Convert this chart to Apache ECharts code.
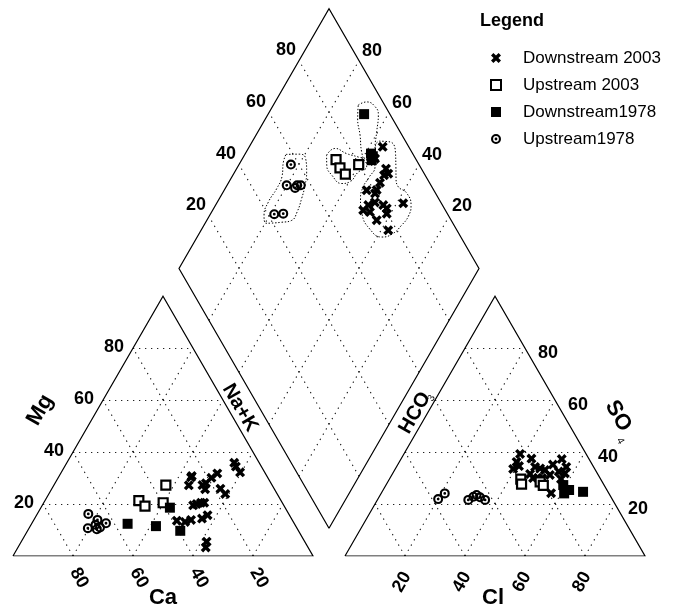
<!DOCTYPE html>
<html>
<head>
<meta charset="utf-8">
<script src="https://cdn.jsdelivr.net/npm/echarts@6/dist/echarts.min.js"></script>
<style>
  html, body { margin: 0; padding: 0; background: #fff; }
  #main { width: 680px; height: 607px; }
</style>
</head>
<body>
<div id="main"></div>
<script>
  // ---- data (percent) ----
  const groupNames = ["Downstream 2003", "Upstream 2003", "Downstream1978", "Upstream1978"];
  const ticks = [20, 40, 60, 80];

  // cation triangle: [Ca, Mg]  (Na+K = rest)
  const catDown2003 = [[8.3, 35.9], [8.5, 34.4], [8.2, 32.2], [25.0, 30.8], [27.8, 27.2], [18.8, 30.1],
    [16.0, 31.8], [23.2, 27.3], [23.1, 25.7], [21.7, 28.0], [17.9, 25.9], [17.3, 23.9], [30.2, 19.5],
    [28.8, 20.0], [27.1, 20.5], [26.0, 20.5], [38.6, 13.6], [36.1, 13.1], [33.7, 13.9], [29.8, 14.4],
    [27.3, 15.7], [32.7, 5.5], [34.1, 3.3], [25.5, 30.3]];
  const catUp2003 = [[35.4, 27.3], [47.4, 21.3], [46.4, 19.2], [39.7, 20.5]];
  const catDown1978 = [[55.6, 12.4], [46.6, 11.5], [38.4, 18.6], [39.4, 9.7]];
  const catUp1978 = [[66.8, 16.2], [64.9, 13.9], [69.7, 10.7], [66.9, 10.3], [65.5, 11.0], [62.7, 12.6], [66.5, 12.0]];

  // anion triangle: [Cl, SO4]  (HCO3 = rest)
  const anDown2003 = [[38.7, 39.3], [39.1, 36.2], [39.3, 33.5], [40.7, 34.6], [43.4, 37.5], [46.2, 34.3],
    [48.2, 33.7], [45.9, 31.6], [49.3, 30.0], [47.7, 30.0], [50.7, 30.0], [52.7, 31.2], [56.6, 24.2],
    [51.7, 35.2], [53.6, 37.3], [56.6, 34.3], [55.0, 32.5], [57.4, 31.8], [57.2, 29.6], [50.1, 33.1]];
  const anUp2003 = [[43.8, 29.6], [45.0, 27.7], [50.8, 28.5], [52.5, 27.2]];
  const anDown1978 = [[59.1, 27.3], [61.0, 24.1], [62.0, 25.4], [67.0, 24.7]];
  const anUp1978 = [[20.1, 21.9], [21.2, 24.1], [30.3, 21.6], [31.4, 22.8], [32.1, 23.5], [33.7, 22.6], [35.9, 21.6]];

  // diamond: [Ca+Mg, Cl+SO4]
  const diaDown2003 = [[55.5, 91.3], [55.8, 86.5], [50.2, 88.2], [48.5, 88.0], [49.6, 86.3], [49.5, 83.5],
    [52.5, 77.6], [49.1, 79.8], [49.1, 75.3], [49.8, 72.6], [47.2, 74.5], [47.4, 78.0], [44.1, 80.3],
    [42.3, 80.8], [37.8, 87.3], [43.4, 75.2], [37.6, 77.1], [41.3, 79.8], [49.2, 81.0]];
  const diaUp2003 = [[68.6, 73.3], [65.7, 73.0], [62.7, 73.6], [60.1, 79.9]];
  const diaDown1978 = [[68.0, 91.4], [58.1, 86.1], [56.6, 85.1], [57.0, 86.2]];
  const diaUp1978 = [[82.7, 57.3], [80.1, 51.9], [76.8, 54.2], [76.6, 55.4], [75.4, 56.6], [78.7, 42.2], [75.8, 45.3]];

  // group outlines in the diamond: [Ca+Mg, Cl+SO4]
  const encDown2003 = [[57.8, 91.2], [54, 94.7], [50.2, 94.5], [47.2, 91.8], [45, 89.7], [42.8, 88.8], [38.6, 90.4],
    [34.8, 89.5], [33.6, 86.6], [34.1, 82.6], [35.6, 77.6], [38.5, 73.6], [43.9, 71.2], [49.5, 71.5], [53, 74],
    [54.3, 77], [54.2, 80.9], [54.2, 84.9], [56.7, 87.7], [58.2, 89.2]];
  const encUp2003 = [[72.6, 71], [71.1, 75.1], [66.2, 78], [61.7, 81.2], [58.3, 83.4], [57, 82.1], [58.8, 78.3],
    [59.7, 73.7], [62.1, 70.6], [67, 68.9], [70.6, 69.1]];
  const encDown1978 = [[71.7, 91.2], [69.5, 94.6], [65.8, 96.5], [63.1, 96], [60.4, 92.2], [57.8, 88.5], [54.4, 87.3],
    [55.1, 84.6], [57.7, 82.8], [61.5, 83.3], [65.3, 86], [69.3, 88.4]];
  const encUp1978 = [[86.3, 57.6], [81.7, 62.3], [79, 63.4], [76, 61.1], [74, 58], [72.6, 54.4], [71.5, 50.2],
    [71.7, 46.8], [74.6, 43.2], [79.7, 37.7], [81.9, 38.6], [83, 42.6], [82.8, 48], [83.4, 52.1], [85.7, 55.3]];

  // ---- geometry ----
  const SQ = Math.sqrt(3) / 2;
  const GAP = 10.67;
  const AX = 100 + GAP;
  const B = [100 + GAP / 2, GAP * SQ];
  const cat = (ca, mg) => [100 - ca - mg / 2, SQ * mg];
  const an = (cl, so4) => [AX + cl + so4 / 2, SQ * so4];
  const dia = (s, t) => [B[0] + (t - s) / 2, B[1] + SQ * (s + t)];

  const font = "'Liberation Sans', Arial, sans-serif";
  const xPath = "path://M0,2.4 L2.4,0 L5,2.6 L7.6,0 L10,2.4 L7.4,5 L10,7.6 L7.6,10 L5,7.4 L2.4,10 L0,7.6 L2.6,5 Z";
  const ringPath = "path://M5,0 A5,5 0 1,1 5,10 A5,5 0 1,1 5,0 Z M5,2.1 A2.9,2.9 0 1,0 5,7.9 A2.9,2.9 0 1,0 5,2.1 Z M5,3.6 A1.4,1.4 0 1,1 5,6.4 A1.4,1.4 0 1,1 5,3.6 Z";

  const frame = [
    { coords: [cat(100, 0), cat(0, 0), cat(0, 100), cat(100, 0)] },
    { coords: [an(0, 0), an(100, 0), an(0, 100), an(0, 0)] },
    { coords: [dia(0, 0), dia(100, 0), dia(100, 100), dia(0, 100), dia(0, 0)] },
  ];
  const gridLines = [];
  ticks.forEach((k) => {
    gridLines.push({ coords: [cat(100 - k, k), cat(0, k)] });
    gridLines.push({ coords: [cat(k, 0), cat(k, 100 - k)] });
    gridLines.push({ coords: [cat(100 - k, 0), cat(0, 100 - k)] });
    gridLines.push({ coords: [an(0, k), an(100 - k, k)] });
    gridLines.push({ coords: [an(k, 0), an(k, 100 - k)] });
    gridLines.push({ coords: [an(100 - k, 0), an(0, 100 - k)] });
    gridLines.push({ coords: [dia(k, 0), dia(k, 100)] });
    gridLines.push({ coords: [dia(0, k), dia(100, k)] });
  });

  const groups = [
    { name: groupNames[0], cat: catDown2003, an: anDown2003, dia: diaDown2003, symbol: xPath, size: 10,
      style: { color: "#000" } },
    { name: groupNames[1], cat: catUp2003, an: anUp2003, dia: diaUp2003, symbol: "rect", size: 9,
      style: { color: "#fff", borderColor: "#000", borderWidth: 2.2 } },
    { name: groupNames[2], cat: catDown1978, an: anDown1978, dia: diaDown1978, symbol: "rect", size: 10,
      style: { color: "#000" } },
    { name: groupNames[3], cat: catUp1978, an: anUp1978, dia: diaUp1978, symbol: ringPath, size: 10,
      style: { color: "#000" } },
  ];

  const outlines = [encDown2003, encUp2003, encDown1978, encUp1978];

  const series = [
    {
      type: "lines", coordinateSystem: "cartesian2d", polyline: true, silent: true,
      lineStyle: { color: "#000", width: 1.2, opacity: 1, type: "solid" },
      data: frame, z: 3,
    },
    {
      type: "lines", coordinateSystem: "cartesian2d", silent: true,
      lineStyle: { color: "#222", width: 1.2, opacity: 1, type: [1.3, 4.7] },
      data: gridLines, z: 2,
    },
  ];
  outlines.forEach((o, i) => {
    series.push({
      type: "line", name: "outline" + i, silent: true, symbol: "none", smooth: 0.5, z: 4,
      lineStyle: { color: "#000", width: 1, type: [1.4, 1.8] },
      data: o.concat([o[0]]).map((p) => dia(p[0], p[1])),
    });
  });
  groups.forEach((g) => {
    series.push({
      type: "scatter", name: g.name, symbol: g.symbol, symbolSize: g.size, z: 5,
      itemStyle: Object.assign({ opacity: 1 }, g.style),
      data: g.cat.map((p) => cat(p[0], p[1]))
        .concat(g.an.map((p) => an(p[0], p[1])))
        .concat(g.dia.map((p) => dia(p[0], p[1]))),
    });
  });

  const chart = echarts.init(document.getElementById("main"));
  chart.setOption({
    animation: false,
    backgroundColor: "#fff",
    grid: { left: 13, right: 35, top: 6, bottom: 51 },
    xAxis: { type: "value", min: 0, max: 210.67, show: false },
    yAxis: { type: "value", min: 0, max: 183.33, show: false },
    title: {
      text: "Legend", left: 480, top: 12, padding: 0,
      textStyle: { fontSize: 18, fontWeight: "bold", color: "#000", fontFamily: font },
    },
    legend: {
      data: groupNames, orient: "vertical", left: 490, top: 49, padding: 0,
      itemWidth: 10, itemHeight: 10, itemGap: 9,
      textStyle: { fontSize: 17, color: "#000", fontFamily: font, lineHeight: 18, padding: [0, 0, 0, 17] },
    },
    tooltip: { show: false },
    series: series,
  });

  // ---- text labels placed from the geometry ----
  const px = (p) => chart.convertToPixel({ gridIndex: 0 }, p);
  const texts = [];
  const addText = (p, dx, dy, text, size, rot, weight) => {
    const q = px(p);
    texts.push({
      type: "text", x: q[0] + dx, y: q[1] + dy, rotation: rot || 0, z: 10,
      style: {
        text: text, fill: "#000", font: (weight || "bold") + " " + size + "px " + font,
        align: "center", verticalAlign: "middle", textAlign: "center", textVerticalAlign: "middle",
      },
    });
  };
  const R60 = Math.PI / 3;
  ticks.forEach((k) => {
    addText(cat(100 - k, k), -19, -1, String(k), 18);
    addText(cat(k, 0), 6, 22, String(k), 18, -R60);
    addText(an(100 - k, k), 23, 5, String(k), 18);
    addText(an(k, 0), -3, 26, String(k), 18, R60);
    addText(dia(100, k), -13, -11, String(k), 18);
    addText(dia(k, 100), 13, -10, String(k), 18);
  });
  addText(cat(50, 0), 0, 42, "Ca", 22);
  addText(an(50, 0), -2, 42, "Cl", 22);
  addText(cat(43.8, 56.2), -57, 0, "Mg", 22, R60);
  addText(an(46.1, 53.9), 54, 0, "SO", 22, -R60);
  addText(an(46.1, 53.9), 56, 25, "4", 10, -R60, "normal");
  addText(cat(0, 57), 12.5, 0, "Na+K", 20, -R60);
  addText(an(0, 55), -12.5, 0, "HCO", 20, R60);
  addText(an(0, 55), 4, -15, "3", 10, R60, "normal");
  chart.setOption({ graphic: texts });
</script>
</body>
</html>
